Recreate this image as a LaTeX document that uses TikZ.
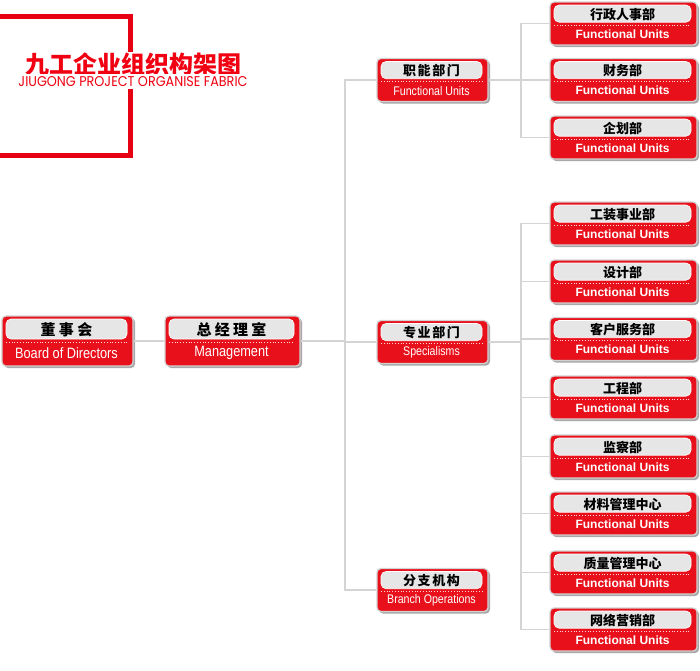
\documentclass[tikz,border=0pt]{standalone}
\usepackage{fontspec}
\setmainfont{Liberation Sans}
\newfontfamily\cjk{Noto Sans CJK SC}
\newfontfamily\cjkwide[LetterSpace=22]{Noto Sans CJK SC}
\newfontfamily\cjkmid[LetterSpace=12]{Noto Sans CJK SC}
\newfontfamily\narrowfont[FakeStretch=0.85]{Liberation Sans}
\newfontfamily\subfont{Poppins}
\definecolor{boxred}{HTML}{E8101A}
\definecolor{framered}{HTML}{E60012}
\definecolor{titlered}{HTML}{F00010}
\definecolor{pillgray}{HTML}{E6E6E6}
\definecolor{bordergray}{HTML}{D2D2D2}
\definecolor{shadowgray}{HTML}{A8A8A8}
\definecolor{linegray}{HTML}{D4D4D4}
\tikzset{
  unit/.style={rectangle, rounded corners=4pt, fill=boxred, draw=bordergray, line width=1.2pt, inner sep=0pt},
  unitshadow/.style={fill=shadowgray, rounded corners=4pt},
  pill/.style={fill=pillgray, draw=white, line width=0.6pt, rounded corners=5pt},
  sepline/.style={draw=white!85!boxred, line width=0.8pt, dotted},
  cnl/.style={inner sep=0pt, text=black},
  enl/.style={inner sep=0pt, text=white},
  conn/.style={draw=linegray, line width=1.4pt},
  frame/.style={draw=framered, line width=5pt}
}
% #1 name, #2 cx, #3 cy, #4 w, #5 h, #6 chinese, #7 english
\newcommand{\orgunit}[7]{%
  \fill[unitshadow] (#2-#4/2+2,#3-#5/2+2) rectangle (#2+#4/2+2,#3+#5/2+2);
  \node[unit, minimum width=#4pt, minimum height=#5pt] (#1) at (#2,#3) {};
  \path[pill] (#2-#4/2+4,#3-#5/2+3) rectangle (#2+#4/2-6,#3-#5/2+3+0.4*#5);
  \draw[sepline] (#2-#4/2+4,#3-#5/2+6+0.4*#5) -- (#2+#4/2-6,#3-#5/2+6+0.4*#5);
  \node[cnl] (#1cn) at (#2-1,#3-0.3*#5+3.5) {#6};
  \node[enl] (#1en) at (#2-1,#3+0.2*#5+2) {#7};
}
\newcommand{\rcn}[1]{\fontsize{13}{13}\cjk\bfseries #1}
\newcommand{\ren}[1]{\fontsize{12}{12}\selectfont\bfseries #1}
\newcommand{\mcn}[1]{\fontsize{13}{13}\cjkmid\bfseries #1}
\newcommand{\men}[1]{\fontsize{12.5}{12.5}\narrowfont #1}
\newcommand{\lcn}[1]{\fontsize{15}{15}\cjkwide\bfseries #1}
\newcommand{\len}[1]{\fontsize{15}{15}\narrowfont #1}
\begin{document}
\begin{tikzpicture}[x=1pt,y=-1pt]
\useasboundingbox[fill=white] (0,0) rectangle (700,670);
% title frame
\draw[frame] (-4,16.5) -- (130.5,16.5) -- (130.5,155.5) -- (-4,155.5);
\node[fill=white, inner sep=1pt, text=titlered] (title) at (133,64.5) {\fontsize{24}{24}\cjk\bfseries 九工企业组织构架图};
\node[fill=white, inner xsep=1pt, inner ysep=2pt, text=titlered] (subtitle) at (133,81.5) {\resizebox{229pt}{10pt}{\subfont JIUGONG PROJECT ORGANISE FABRIC}};
% coordinates of the trunks
\coordinate (trunkM) at (345,0);
\coordinate (trunkR) at (521,0);
% left units
\orgunit{bod}{67.5}{341}{131}{50}{\lcn{董事会}}{\len{Board of Directors}}
\orgunit{gm}{232.5}{341}{135}{50}{\lcn{总经理室}}{\len{Management}}
% middle units
\orgunit{fn}{432.5}{80}{111}{43}{\mcn{职能部门}}{\men{Functional Units}}
\orgunit{sp}{432.5}{342}{111}{43}{\mcn{专业部门}}{\men{Specialisms}}
\orgunit{br}{432.5}{590}{111}{43}{\mcn{分支机构}}{\men{Branch Operations}}
% right units
\orgunit{ua}{623.5}{23.5}{147}{43}{\rcn{行政人事部}}{\ren{Functional Units}}
\orgunit{ub}{623.5}{80}{147}{43}{\rcn{财务部}}{\ren{Functional Units}}
\orgunit{uc}{623.5}{137.5}{147}{43}{\rcn{企划部}}{\ren{Functional Units}}
\orgunit{ud}{623.5}{223.5}{147}{43}{\rcn{工装事业部}}{\ren{Functional Units}}
\orgunit{ue}{623.5}{281.5}{147}{43}{\rcn{设计部}}{\ren{Functional Units}}
\orgunit{uf}{623.5}{339}{147}{43}{\rcn{客户服务部}}{\ren{Functional Units}}
\orgunit{ug}{623.5}{397.5}{147}{43}{\rcn{工程部}}{\ren{Functional Units}}
\orgunit{uh}{623.5}{456.5}{147}{43}{\rcn{监察部}}{\ren{Functional Units}}
\orgunit{ui}{623.5}{513.5}{147}{43}{\rcn{材料管理中心}}{\ren{Functional Units}}
\orgunit{uj}{623.5}{572.5}{147}{43}{\rcn{质量管理中心}}{\ren{Functional Units}}
\orgunit{uk}{623.5}{629.5}{147}{43}{\rcn{网络营销部}}{\ren{Functional Units}}
% connectors
\draw[conn] (bod.east) -- (gm.west);
\draw[conn] (gm.east) -- (gm.east -| trunkM);
\draw[conn] (fn.west) -| (trunkM |- br.west) -- (br.west);
\draw[conn] (sp.west) -- (sp.west -| trunkM);
\draw[conn] (fn.east) -- (ub.west);
\draw[conn] (ua.west) -| (trunkR |- uc.west) -- (uc.west);
\draw[conn] (sp.east) -- (sp.east -| trunkR);
\draw[conn] (ud.west) -| (trunkR |- uk.west) -- (uk.west);
\foreach \u in {ue,uf,ug,uh,ui,uj}{\draw[conn] (\u.west) -- (\u.west -| trunkR);}
\end{tikzpicture}
\end{document}
